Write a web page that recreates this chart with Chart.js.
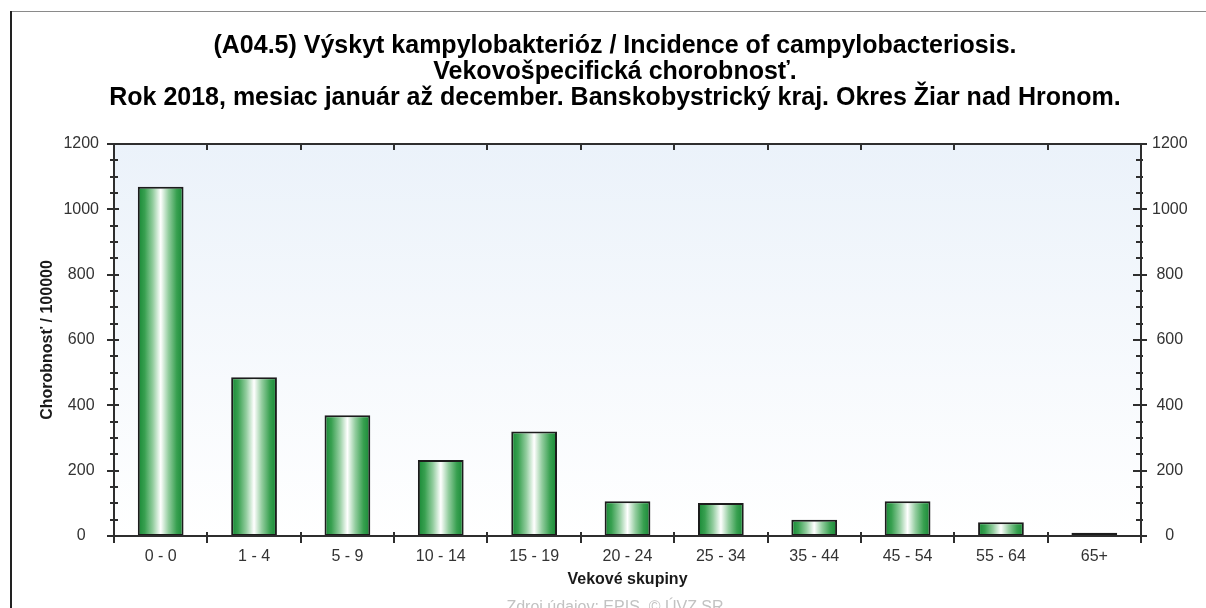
<!DOCTYPE html>
<html>
<head>
<meta charset="utf-8">
<script src="https://cdn.jsdelivr.net/npm/chart.js@4"></script>
<style>
html,body{margin:0;padding:0;overflow:hidden;background:#fff;width:1206px;height:608px}
#wrap{position:absolute;left:0;top:0;width:1230px;height:630px}
</style>
</head>
<body>
<div id="wrap"><canvas id="c" width="1230" height="630"></canvas></div>
<script>
// ---- data ----
const titleLines = [
  '(A04.5) Výskyt kampylobakterióz / Incidence of campylobacteriosis.',
  'Vekovošpecifická chorobnosť.',
  'Rok 2018, mesiac január až december. Banskobystrický kraj. Okres Žiar nad Hronom.'
];
const categories = ['0 - 0','1 - 4','5 - 9','10 - 14','15 - 19','20 - 24','25 - 34','35 - 44','45 - 54','55 - 64','65+'];
const incidence = [1069, 486, 370, 233, 320, 106, 101, 50, 106, 42, 10];
const yMin = 0;
const yMax = 1200;
const yStep = 200;
const yMinorStep = 50;
const xAxisTitle = 'Vekové skupiny';
const yAxisTitle = 'Chorobnosť / 100000';
const sourceNote = 'Zdroj údajov: EPIS, © ÚVZ SR';

// ---- styling ----
const FONT = '"Liberation Sans", Arial, Helvetica, sans-serif';
const BAR_PCT = 0.49;
const AXIS_COLOR = '#2e2e2e';

function barFill(c) {
  const chart = c.chart;
  const area = chart.chartArea;
  if (!area || c.type !== 'data' || !chart.scales.x) return '#2e9a4a';
  const xs = chart.scales.x;
  const cx = xs.getPixelForValue(c.dataIndex);
  const w = (xs.width / categories.length) * BAR_PCT;
  const g = chart.ctx.createLinearGradient(cx - w / 2, 0, cx + w / 2, 0);
  g.addColorStop(0, '#168834');
  g.addColorStop(0.15, '#38a050');
  g.addColorStop(0.33, '#93cd9f');
  g.addColorStop(0.5, '#ffffff');
  g.addColorStop(0.67, '#93cd9f');
  g.addColorStop(0.85, '#38a050');
  g.addColorStop(1, '#168834');
  return g;
}

const outerFrame = {
  id: 'outerFrame',
  beforeDraw(chart) {
    const ctx = chart.ctx;
    ctx.save();
    ctx.fillStyle = '#ffffff';
    ctx.fillRect(0, 0, chart.width, chart.height);
    ctx.strokeStyle = '#8a8a8a';
    ctx.lineWidth = 1;
    ctx.beginPath();
    ctx.moveTo(11, 11.5); ctx.lineTo(chart.width - 11, 11.5);
    ctx.stroke();
    ctx.strokeStyle = '#222';
    ctx.lineWidth = 2;
    ctx.beginPath();
    ctx.moveTo(11, 11); ctx.lineTo(11, chart.height);
    ctx.stroke();
    ctx.restore();
  }
};

const plotBackground = {
  id: 'plotBackground',
  beforeDatasetsDraw(chart) {
    const {ctx, chartArea: a} = chart;
    const g = ctx.createLinearGradient(0, a.top, 0, a.bottom);
    g.addColorStop(0, '#ebf2fa');
    g.addColorStop(1, '#ffffff');
    ctx.save();
    ctx.fillStyle = g;
    ctx.fillRect(a.left, a.top, a.right - a.left, a.bottom - a.top);
    ctx.restore();
  }
};

const axisFrame = {
  id: 'axisFrame',
  afterDatasetsDraw(chart) {
    const {ctx, chartArea: a, scales} = chart;
    const ys = scales.y;
    const xs = scales.x;
    ctx.save();
    ctx.strokeStyle = AXIS_COLOR;
    ctx.lineWidth = 2;
    const line = (x1, y1, x2, y2) => { ctx.beginPath(); ctx.moveTo(x1, y1); ctx.lineTo(x2, y2); ctx.stroke(); };
    // frame
    line(a.left - 1, a.top, a.right + 1, a.top);
    line(a.left, a.top, a.left, a.bottom + 7);
    line(a.right, a.top, a.right, a.bottom + 7);
    line(a.left, a.bottom, a.right, a.bottom);
    // y ticks
    for (let v = yMin; v <= yMax; v += yMinorStep) {
      const y = Math.round(ys.getPixelForValue(v));
      if (v % yStep === 0) {
        line(a.left - 7, y, a.left + 5, y);
        line(a.right - 8, y, a.right + 6, y);
      } else {
        line(a.left - 4, y, a.left + 4, y);
        line(a.right - 5, y, a.right + 2, y);
      }
    }
    // x ticks at category boundaries
    for (let i = 0; i < categories.length - 1; i++) {
      const x = Math.round((xs.getPixelForValue(i) + xs.getPixelForValue(i + 1)) / 2);
      line(x, a.bottom - 4, x, a.bottom + 7);
      line(x, a.top, x, a.top + 6);
    }
    ctx.restore();
  }
};

const tickFont = {family: FONT, size: 16};
const tickColor = '#333';
const plainNumber = v => String(v);

new Chart(document.getElementById('c'), {
  type: 'bar',
  data: {
    labels: categories,
    datasets: [{
      data: incidence,
      backgroundColor: barFill,
      borderColor: '#1c1c1c',
      borderWidth: 2,
      borderSkipped: false,
      barPercentage: BAR_PCT,
      categoryPercentage: 1,
      yAxisID: 'y'
    }]
  },
  options: {
    responsive: false,
    devicePixelRatio: 1,
    animation: false,
    layout: {padding: {left: 0, right: 0, top: 0, bottom: 0}},
    plugins: {
      legend: {display: false},
      tooltip: {enabled: false},
      title: {
        display: true,
        text: titleLines,
        color: '#000',
        font: {family: FONT, size: 25, weight: 'bold', lineHeight: 1.04},
        padding: {top: 33, bottom: 33}
      },
      subtitle: {
        display: true,
        position: 'bottom',
        text: sourceNote,
        color: '#c2c2c2',
        font: {family: FONT, size: 16, lineHeight: 1.2},
        padding: {top: 9, bottom: 13}
      }
    },
    scales: {
      x: {
        type: 'category',
        offset: true,
        grid: {display: false, drawTicks: false, tickLength: 0},
        border: {display: false},
        ticks: {font: tickFont, color: tickColor, padding: 11, maxRotation: 0, autoSkip: false},
        title: {display: true, text: xAxisTitle, color: '#1a1a1a',
                font: {family: FONT, size: 16, weight: 'bold', lineHeight: 1.2},
                padding: {top: 3, bottom: 0}},
        afterFit(s) { s.height = 52.8; }
      },
      y: {
        position: 'left',
        min: yMin, max: yMax,
        grid: {display: false, drawTicks: false, tickLength: 0},
        border: {display: false},
        ticks: {stepSize: yStep, font: tickFont, color: tickColor, padding: 15, crossAlign: 'center', callback: plainNumber},
        title: {display: true, text: yAxisTitle, color: '#1a1a1a',
                font: {family: FONT, size: 16, weight: 'bold', lineHeight: 1.2},
                padding: {top: 38, bottom: 0}},
        afterFit(s) { s.width = 114; }
      },
      y2: {
        position: 'right',
        min: yMin, max: yMax,
        grid: {display: false, drawTicks: false, tickLength: 0},
        border: {display: false},
        ticks: {stepSize: yStep, font: tickFont, color: tickColor, padding: 11, crossAlign: 'center', callback: plainNumber},
        afterFit(s) { s.width = 89; }
      }
    }
  },
  plugins: [outerFrame, plotBackground, axisFrame]
});
</script>
</body>
</html>
